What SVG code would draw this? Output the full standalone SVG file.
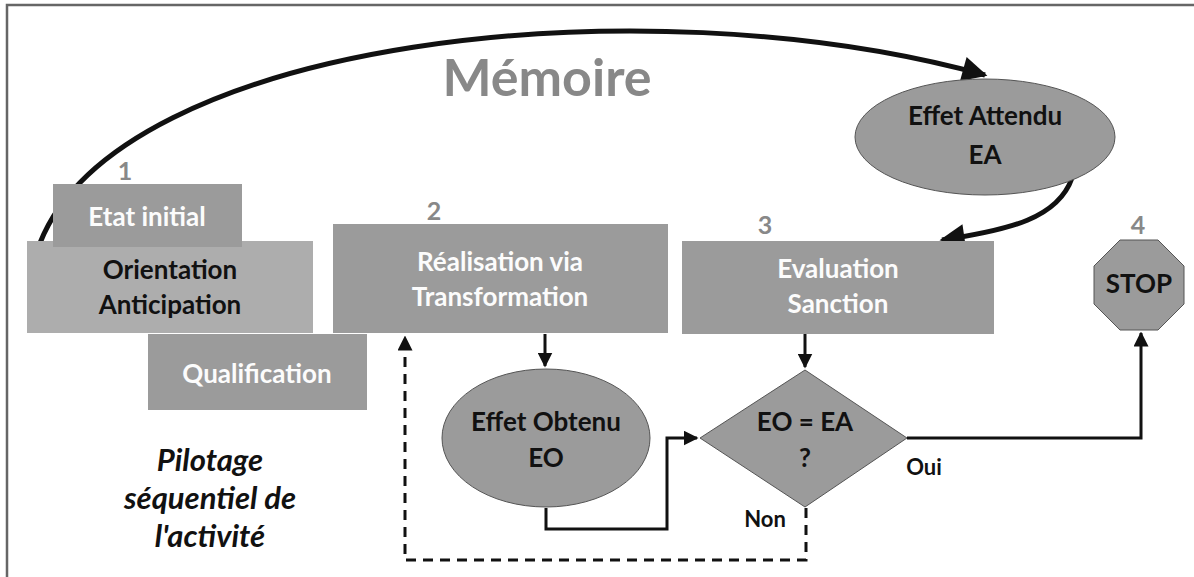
<svg xmlns="http://www.w3.org/2000/svg" width="1194" height="577" viewBox="0 0 1194 577">
<defs>
<style>
.box{fill:#9b9b9b}
.light{fill:#adadad}
.shape{fill:#9b9b9b;stroke:#555;stroke-width:1}
.wt{font-family:Lato,"Open Sans",sans-serif;font-weight:bold;font-size:26px;fill:#fcfcfc;text-anchor:middle}
.bt{font-family:Lato,"Open Sans",sans-serif;font-weight:bold;font-size:26px;fill:#111;text-anchor:middle}
.num{font-family:Lato,"Open Sans",sans-serif;font-weight:bold;font-size:25px;fill:#888;text-anchor:middle}
.lbl{font-family:Lato,"Open Sans",sans-serif;font-weight:bold;font-size:22px;fill:#111;text-anchor:middle}
.it{font-family:Lato,"Open Sans",sans-serif;font-weight:bold;font-style:italic;font-size:31px;fill:#111;text-anchor:middle}
.c{fill:none;stroke:#111;stroke-width:3}
.thick{fill:none;stroke:#111;stroke-width:5}
.dash{fill:none;stroke:#111;stroke-width:3;stroke-dasharray:10,7}
</style>
<marker id="ah" viewBox="0 0 10 10" refX="9" refY="5" markerWidth="5" markerHeight="5" orient="auto" markerUnits="strokeWidth">
<path d="M0,0 L10,5 L0,10 z" fill="#111"/>
</marker>
<marker id="ahb" viewBox="0 0 10 10" refX="9" refY="5" markerWidth="6" markerHeight="5" orient="auto">
<path d="M0,0 L10,5 L0,10 z" fill="#111"/>
</marker>
</defs>
<rect width="1194" height="577" fill="#fff"/>
<path d="M7,577 V5 H1194" fill="none" stroke="#666" stroke-width="2.5"/>

<text x="547" y="96" font-family="Lato,'Open Sans',sans-serif" font-weight="bold" font-size="52" fill="#888" text-anchor="middle">Mémoire</text>

<g id="connectors">
<path class="thick" d="M40,243 C120,40 640,-20 985,75" marker-end="url(#ahb)"/>
<path class="thick" d="M1072,178 C1058,218 1010,230 942,240" marker-end="url(#ahb)"/>
<path class="c" d="M545,334 V366" marker-end="url(#ah)"/>
<path class="c" d="M805,334 V367" marker-end="url(#ah)"/>
<path class="c" d="M546,508 V529 H667 V438 H697" marker-end="url(#ah)"/>
<path class="dash" d="M806,508 V560 H405 V337" marker-end="url(#ah)"/>
<path class="c" d="M907,438 H1141 V333" marker-end="url(#ah)"/>
</g>

<g id="orientation">
<rect class="light" x="27" y="241" width="286" height="92"/>
<text class="bt" x="170" y="279">Orientation</text>
<text class="bt" x="170" y="314">Anticipation</text>
</g>
<g id="etat-initial">
<rect class="box" x="53" y="184" width="189" height="63"/>
<text class="wt" x="147" y="226">Etat initial</text>
</g>
<g id="qualification">
<rect class="box" x="148" y="334" width="219" height="76"/>
<text class="wt" x="257" y="383">Qualification</text>
</g>
<text class="num" x="125" y="180">1</text>

<g id="realisation">
<rect class="box" x="333" y="224" width="335" height="109"/>
<text class="wt" x="500" y="271">Réalisation via</text>
<text class="wt" x="500" y="306">Transformation</text>
<text class="num" x="434" y="220">2</text>
</g>

<g id="evaluation">
<rect class="box" x="682" y="241" width="312" height="93"/>
<text class="wt" x="838" y="278">Evaluation</text>
<text class="wt" x="838" y="313">Sanction</text>
<text class="num" x="765" y="234">3</text>
</g>

<g id="effet-attendu">
<ellipse class="shape" cx="985" cy="137" rx="130" ry="58"/>
<text class="bt" x="985" y="125">Effet Attendu</text>
<text class="bt" x="985" y="164">EA</text>
</g>

<g id="effet-obtenu">
<ellipse class="shape" cx="546" cy="438" rx="104" ry="69"/>
<text class="bt" x="546" y="431">Effet Obtenu</text>
<text class="bt" x="546" y="467">EO</text>
</g>

<g id="decision">
<polygon class="shape" points="805,370 907,438 805,507 700,438"/>
<text class="bt" x="805" y="431">EO = EA</text>
<text class="bt" x="805" y="467">?</text>
<text class="lbl" x="924" y="475">Oui</text>
<text class="lbl" x="765" y="527">Non</text>
</g>

<g id="stop">
<polygon class="shape" points="1120,240 1158,240 1184,266 1184,304 1158,330 1120,330 1094,304 1094,266"/>
<text class="bt" x="1139" y="293">STOP</text>
<text class="num" x="1138" y="234">4</text>
</g>

<g id="pilotage">
<text class="it" x="210" y="471">Pilotage</text>
<text class="it" x="210" y="509">séquentiel de</text>
<text class="it" x="210" y="547">l'activité</text>
</g>
</svg>
